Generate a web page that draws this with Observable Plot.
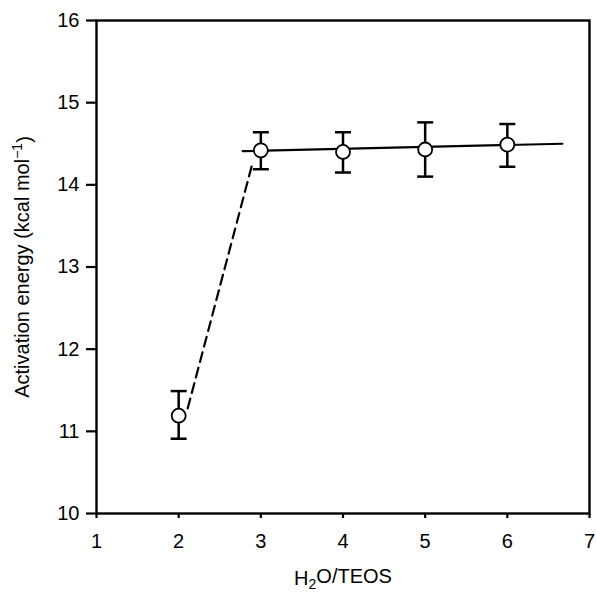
<!DOCTYPE html>
<html>
<head>
<meta charset="utf-8">
<script src="https://cdn.jsdelivr.net/npm/d3@7"></script>
<script src="https://cdn.jsdelivr.net/npm/@observablehq/plot@0.6"></script>
<style>
  html, body { margin: 0; padding: 0; background: #fff; }
  #chart svg { display: block; }
</style>
</head>
<body>
<div id="chart"></div>
<script>
// Data
const ratio = [2, 3, 4, 5, 6];                       // H2O/TEOS
const energy = [11.19, 14.42, 14.40, 14.43, 14.49];   // kcal/mol
const errLow = [10.91, 14.19, 14.15, 14.10, 14.22];
const errHigh = [11.49, 14.64, 14.64, 14.76, 14.74];

// Solid fit line (plateau) endpoints
const fitX = [2.78, 6.67];
const fitY = [14.41, 14.50];

// Dashed line endpoints
const dashX = [2.11, 2.90];
const dashY = [11.28, 14.27];

const xTicks = [1, 2, 3, 4, 5, 6, 7];
const yTicks = [10, 11, 12, 13, 14, 15, 16];

const points = ratio.map((x, i) => ({x, y: energy[i], lo: errLow[i], hi: errHigh[i]}));
const fit = fitX.map((x, i) => ({x, y: fitY[i]}));
const dash = dashX.map((x, i) => ({x, y: dashY[i]}));

const cap = {
  draw(context, size) {
    const r = Math.sqrt(size / Math.PI);
    context.moveTo(-r, 0);
    context.lineTo(r, 0);
  }
};

const FONT = "'Liberation Sans', Arial, Helvetica, sans-serif";

const chart = Plot.plot({
  width: 596,
  height: 592,
  marginLeft: 96,
  marginRight: 7,
  marginTop: 20,
  marginBottom: 79,
  style: {fontFamily: FONT, fontSize: "20px", background: "#fff", color: "#000"},
  x: {domain: [1, 7]},
  y: {domain: [10, 16]},
  marks: [
    Plot.frame({stroke: "#000", strokeWidth: 2.4}),
    Plot.axisX({ticks: xTicks, tickFormat: d => String(d), tickSize: 5, tickPadding: 15, strokeWidth: 2.2,
      fontSize: 20, label: "H2O/TEOS", labelAnchor: "center", labelArrow: "none", labelOffset: 71}),
    Plot.axisY({ticks: yTicks, tickFormat: d => String(d), tickSize: 10, tickPadding: 7, strokeWidth: 2.2,
      fontSize: 20, label: "Activation energy (kcal mol-1)", labelAnchor: "center", labelArrow: "none", labelOffset: 82}),
    Plot.line(dash, {x: "x", y: "y", stroke: "#000", strokeWidth: 2.2, strokeDasharray: "10,6"}),
    Plot.line(fit, {x: "x", y: "y", stroke: "#000", strokeWidth: 2.2}),
    Plot.ruleX(points, {x: "x", y1: "lo", y2: "hi", stroke: "#000", strokeWidth: 2.5}),
    Plot.dot(points, {x: "x", y: "hi", symbol: cap, r: 8, stroke: "#000", strokeWidth: 2.5, fill: "none"}),
    Plot.dot(points, {x: "x", y: "lo", symbol: cap, r: 8, stroke: "#000", strokeWidth: 2.5, fill: "none"}),
    Plot.dot(points, {x: "x", y: "y", r: 7, fill: "#fff", stroke: "#000", strokeWidth: 1.8})
  ]
});

// Proper sub/superscripts in the axis labels
const svg = d3.select(chart);
svg.selectAll("text").attr("font-size", 20).style("font-size", "20px");
const xl = svg.select('g[aria-label="x-axis label"] text');
if (!xl.empty()) {
  xl.text("H");
  xl.append("tspan").attr("dy", "0.3em").style("font-size", "14px").text("2");
  xl.append("tspan").attr("dy", "-0.3em").text("O/TEOS");
}
const yl = svg.select('g[aria-label="y-axis label"] text');
if (!yl.empty()) {
  yl.text("Activation energy (kcal mol");
  yl.append("tspan").attr("dy", "-0.45em").style("font-size", "14px").text("\u22121");
  yl.append("tspan").attr("dy", "0.45em").text(")");
}
document.getElementById("chart").appendChild(chart);
</script>
</body>
</html>
